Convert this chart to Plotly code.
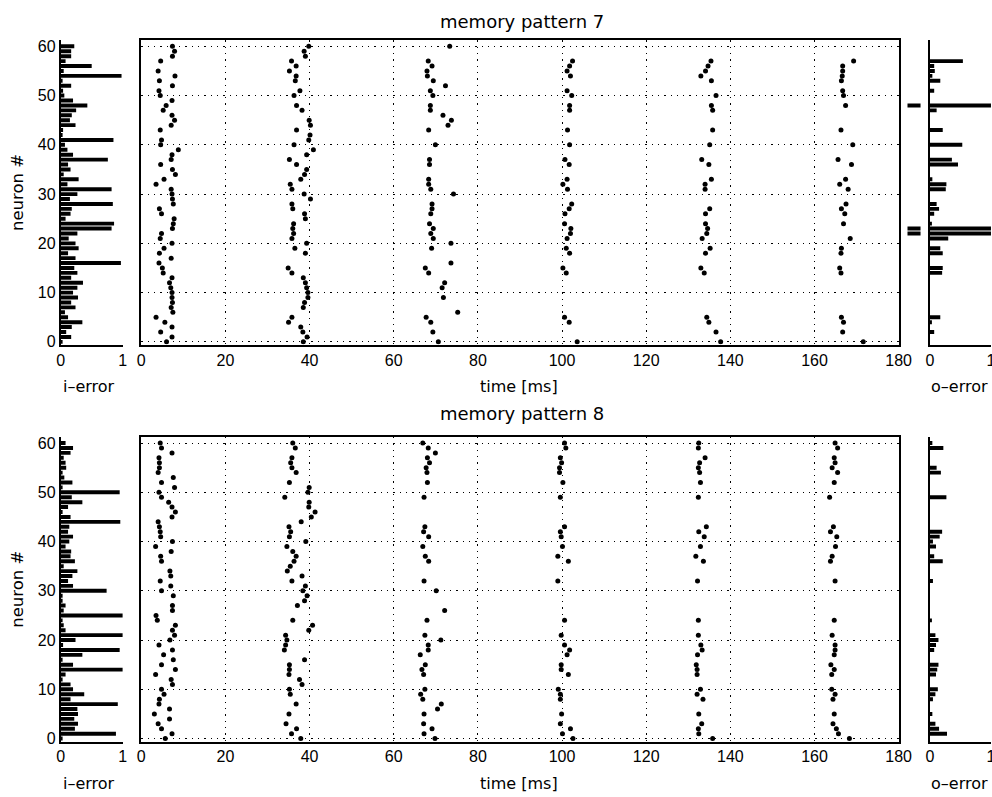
import plotly.graph_objects as go

N = None
neurons = list(range(61))

# ---------- memory pattern 7: spike times [ms] per neuron 0..60, one list per burst ----------
p7_burst1 = [6.0, 7.3, 4.6, 7.3, 5.6, 3.5, 7.5, 7.1, 7.4, 7.3,
             7.3, 7.0, 6.7, 7.3, 5.2, 5.0, 4.2, 7.1, 4.3, 5.4,
             7.3, 4.5, 4.8, 7.4, 7.6, 7.8, 4.8, 4.3, 7.6, 7.4,
             7.3, 7.1, 3.5, 5.4, 8.1, 7.4, 4.6, 7.1, 7.3, 8.8,
             4.6, 4.8, N, 4.5, 7.1, 7.9, 7.3, 5.2, 5.9, 7.3,
             4.5, 4.2, 7.4, 4.3, 8.0, 4.0, N, 4.6, 7.4, 7.9, 7.4]
p7_burst2 = [38.5, 39.4, 38.4, 37.9, 35.0, 35.8, N, 38.5, 38.8, 39.6,
             39.6, 39.3, 39.0, 38.5, 35.8, 34.9, N, N, 39.0, 36.5,
             39.3, 35.8, 36.2, 36.0, 36.2, 39.0, 38.8, 36.0, 35.8, 40.2,
             38.7, 35.8, 35.4, 37.9, 38.8, 39.3, 36.9, 35.2, 39.3, 40.9,
             36.3, 39.8, 40.1, 36.9, 40.2, 39.9, N, 38.2, 36.9, N,
             36.3, 37.7, N, 36.6, 36.8, 35.2, 36.8, 35.7, 39.0, 38.7, 39.8]
p7_burst3 = [70.6, N, 69.3, N, 68.8, 67.7, 75.2, N, N, 71.8,
             N, 71.5, 72.1, N, 68.3, 67.5, 73.6, N, N, 69.0,
             73.6, 69.4, 68.8, 69.4, 68.5, N, 68.8, 69.1, 69.1, N,
             74.2, 68.8, 68.3, 68.3, N, N, 68.5, 68.5, N, N,
             69.9, N, N, 68.3, 72.9, 73.7, 71.7, 68.7, 68.7, N,
             69.3, 68.7, 72.3, 69.4, 68.0, 67.9, 69.1, 68.2, N, N, 73.3]
p7_burst4 = [103.6, N, N, N, 101.7, 100.6, N, N, N, N,
             N, N, N, N, 101.0, 100.2, N, N, 101.8, 101.0,
             N, 101.2, 102.0, 102.1, 100.6, N, 100.7, 101.7, 102.3, N,
             N, 101.3, 100.2, 101.2, N, N, 101.7, 100.7, N, N,
             101.8, N, N, 101.3, N, N, N, 101.8, 101.8, N,
             102.3, 101.2, N, N, 102.0, 101.2, 101.8, 102.5, N, N, N]
p7_burst5 = [137.7, N, 136.6, N, 134.9, 134.4, N, N, N, N,
             N, N, N, N, 133.8, 133.0, N, N, 134.1, 135.2,
             N, 133.3, 134.4, 134.6, 134.1, N, 134.1, 135.1, N, N,
             N, 134.0, 134.0, 135.5, N, N, 134.9, 133.2, N, N,
             135.1, N, N, 135.8, N, N, N, 135.8, 135.5, N,
             136.6, N, N, 135.5, 133.0, 134.1, 134.7, 135.4, N, N, N]
p7_burst6 = [171.6, N, 166.7, N, 166.9, 166.4, N, N, N, N,
             N, N, N, N, 166.3, 166.0, N, N, 166.3, 166.4,
             N, 168.5, N, N, 166.9, N, 167.2, 166.4, 167.5, N,
             N, 168.0, 166.0, 167.4, N, N, 168.8, 165.6, N, N,
             169.1, N, N, 166.3, N, N, N, N, 167.4, N,
             166.9, 166.7, N, 166.4, 166.6, 166.7, 166.7, 169.3, N, N, N]

# ---------- memory pattern 8 ----------
p8_burst1 = [5.7, 7.3, 4.8, 4.0, 6.7, 3.1, 6.7, 4.2, 4.3, 5.4,
             4.8, 7.4, 7.1, 3.4, 8.1, 4.8, 7.6, 5.3, 7.4, 4.2,
             6.8, 7.9, 7.4, 8.1, 3.8, 3.5, 7.4, 7.4, N, 7.6,
             4.8, 7.0, 4.5, 7.0, 6.8, N, 4.8, 4.6, 7.1, 3.4,
             7.4, 4.6, 4.5, 4.3, 4.0, 7.3, 8.1, 7.3, 6.5, 4.8,
             4.2, 7.9, 4.8, 7.6, 4.0, 4.3, 4.3, 4.2, 7.3, 4.8, 4.5]
p8_burst2 = [37.9, 35.7, 36.9, 34.4, N, 35.1, N, 36.8, N, 35.4,
             35.2, 38.2, 37.6, 35.1, 35.2, 35.2, 38.8, N, 34.0, 34.3,
             34.6, 34.3, 39.8, 40.7, 36.0, N, N, 37.1, 38.8, 39.4,
             38.4, 39.0, 35.8, 38.2, 34.7, 35.4, 36.3, 36.8, 36.0, 34.6,
             39.1, 35.2, 35.5, 35.1, 38.0, 40.4, 41.3, 39.8, 39.9, 34.1,
             39.6, 39.9, 35.2, N, 36.8, 35.8, 35.5, 35.8, N, 36.6, 36.0]
p8_burst3 = [69.8, 67.2, 69.1, 67.1, N, 67.2, 70.4, 71.3, 66.9, 66.4,
             67.4, N, N, 67.1, 66.7, 67.5, N, 66.3, 68.2, 68.2,
             71.2, 67.4, N, N, 67.9, N, 72.1, N, N, N,
             70.1, N, 67.2, N, N, N, 68.3, 67.5, N, 66.9,
             N, 68.3, 67.1, 67.4, N, N, N, N, N, 67.2,
             N, N, 68.0, N, 67.9, 67.7, 68.5, 68.0, 69.9, 68.2, 66.9]
p8_burst4 = [102.6, 100.1, 102.0, 99.6, N, 99.9, N, N, 99.6, 99.6,
             99.1, N, N, 101.5, 99.8, 99.8, N, 101.2, 101.8, 100.6,
             N, 99.8, N, N, 100.6, N, N, N, N, N,
             N, N, 99.0, N, N, N, 101.5, 99.0, N, 100.1,
             N, 99.8, 99.6, 100.6, N, N, N, N, N, 99.6,
             N, N, 100.2, N, 99.4, 99.4, 99.9, 99.6, N, 100.9, 100.6]
p8_burst5 = [135.8, 132.5, 132.4, 133.2, N, 132.5, N, N, 133.5, 132.1,
             132.9, N, N, 132.1, 132.1, 131.9, N, 132.2, 133.3, 133.0,
             N, 132.4, N, N, 132.4, N, N, N, N, N,
             N, N, 132.2, N, N, N, 133.6, 131.8, N, 132.9,
             N, 133.8, 132.5, 134.3, N, N, N, N, N, 132.4,
             N, N, 132.9, N, 132.7, 132.4, 132.7, 134.0, N, 132.4, 132.5]
p8_burst6 = [168.3, 165.7, 165.2, 164.4, N, 164.7, N, N, 164.4, 164.9,
             164.1, N, N, 164.1, 164.7, 163.9, N, 164.7, 164.9, 164.9,
             N, 164.2, N, N, 164.7, N, N, N, N, N,
             N, N, 164.9, N, N, N, 163.8, 164.2, N, 165.0,
             N, 165.3, 163.8, 164.5, N, N, N, N, N, 163.6,
             N, N, 164.7, N, 165.5, 164.2, 164.9, 164.7, N, 165.5, 164.9]

# ---------- input / output errors per neuron 0..60 ----------
i_error7 = [0.03, 0.17, 0.09, 0.18, 0.35, 0.12, 0.07, 0.24, 0.17, 0.28,
            0.20, 0.27, 0.36, 0.17, 0.27, 0.22, 0.97, 0.24, 0.12, 0.29,
            0.24, 0.13, 0.27, 0.82, 0.86, 0.08, 0.16, 0.18, 0.84, 0.15,
            0.27, 0.82, 0.11, 0.29, 0.05, 0.16, 0.12, 0.76, 0.20, 0.11,
            0.07, 0.85, 0.02, 0.04, 0.24, 0.15, 0.18, 0.25, 0.43, 0.20,
            0.06, 0.04, 0.17, 0.02, 0.98, 0.05, 0.50, 0.08, 0.17, 0.17, 0.22]
i_error8 = [0.02, 0.89, 0.23, 0.28, 0.22, 0.28, 0.27, 0.92, 0.16, 0.38,
            0.20, 0.16, 0.03, 0.08, 1.00, 0.20, 0.03, 0.35, 0.95, 0.04,
            0.24, 1.00, 0.08, 0.05, 0.03, 1.00, 0.05, 0.08, 0.03, 0.02,
            0.74, 0.20, 0.12, 0.19, 0.27, 0.05, 0.23, 0.16, 0.17, 0.08,
            0.14, 0.20, 0.12, 0.14, 0.96, 0.16, 0.03, 0.12, 0.35, 0.18,
            0.95, 0.02, 0.19, 0.06, 0.03, 0.09, 0.08, 0.05, 0.16, 0.20, 0.08]
o_error7 = [0, 0, 0.07, 0, 0.03, 0.17, 0, 0, 0, 0,
            0, 0, 0, 0, 0.20, 0.21, 0, 0, 0.21, 0.17,
            0, 0.30, 1.00, 1.00, 0.02, 0, 0.07, 0.15, 0.11, 0,
            0, 0.26, 0.27, 0.04, 0, 0, 0.46, 0.36, 0, 0,
            0.53, 0, 0, 0.21, 0, 0, 0, 0.11, 1.00, 0,
            0, 0.07, 0, 0.17, 0.04, 0.08, 0.07, 0.54, 0, 0, 0]
o_error8 = [0, 0.28, 0.15, 0.09, 0, 0.04, 0, 0, 0.05, 0.09,
            0.13, 0, 0, 0.10, 0.12, 0.14, 0, 0, 0.07, 0.10,
            0.14, 0.09, 0, 0, 0.02, 0, 0, 0, 0, 0,
            0, 0, 0.05, 0, 0, 0, 0.21, 0.07, 0, 0.10,
            0.05, 0.16, 0.20, 0, 0, 0, 0, 0, 0, 0.27,
            0, 0, 0, 0, 0.18, 0.11, 0, 0, 0, 0.22, 0.04]
# stray marks left of the o-error axis (pattern 7)
o_error7_stray_neurons = [22, 23, 48]
o_error7_stray = [1, 1, 1]

titles = ["memory pattern 7", "memory pattern 8"]
time_ticks = list(range(0, 181, 20))
neuron_ticks = list(range(0, 61, 10))

W, H = 1006, 803
SX, OX, SY = 0.9866, 1.5, 0.992   # how figure pixels land in the photographed page
FONT = "Liberation Sans"
LABEL_FONT = "DejaVu Sans"

def px_x(p):
    """paper fraction for a horizontal position p measured in the reference picture"""
    return min(1.0, ((p - OX) / SX) / W)

def px_y(p):
    return 1 - (p / SY) / H

fig = go.Figure()

panels = [
    dict(bursts=[p7_burst1, p7_burst2, p7_burst3, p7_burst4, p7_burst5, p7_burst6],
         ierr=i_error7, oerr=o_error7, top=38.5, bot=343.5, ax0=1),
    dict(bursts=[p8_burst1, p8_burst2, p8_burst3, p8_burst4, p8_burst5, p8_burst6],
         ierr=i_error8, oerr=o_error8, top=436.0, bot=741.0, ax0=5),
]

yr = [-0.6, 61.2]
line_w = 1.5
layout = dict(width=W, height=H, autosize=False, margin=dict(l=0, r=0, t=0, b=0),
              paper_bgcolor="white", plot_bgcolor="white", showlegend=False,
              font=dict(family=FONT, size=16, color="black"), bargap=0.2)
annotations = []

for k, pan in enumerate(panels):
    a = pan["ax0"]
    ydom = [px_y(pan["bot"]), px_y(pan["top"])]
    xa = lambda i: "x" if i == 1 else f"x{i}"
    ya = lambda i: "y" if i == 1 else f"y{i}"
    xk = lambda i: "xaxis" if i == 1 else f"xaxis{i}"
    yk = lambda i: "yaxis" if i == 1 else f"yaxis{i}"

    # left histogram (i-error)
    fig.add_trace(go.Bar(x=pan["ierr"], y=neurons, orientation="h", width=0.8,
                         marker=dict(color="black", line=dict(width=0)),
                         xaxis=xa(a), yaxis=ya(a)))
    layout[xk(a)] = dict(domain=[px_x(58.3), px_x(120.7)], range=[0, 1], tickvals=[0, 1],
                         showline=True, linecolor="black", linewidth=line_w, ticks="",
                         showgrid=False, zeroline=False, anchor=ya(a))
    layout[yk(a)] = dict(domain=ydom, range=yr, tickvals=neuron_ticks, showline=True,
                         linecolor="black", linewidth=line_w, ticks="", showgrid=False,
                         zeroline=False, anchor=xa(a))

    # raster
    rx, ry = [], []
    for b in pan["bursts"]:
        for n, t in zip(neurons, b):
            if t is not None:
                rx.append(t)
                ry.append(n)
    fig.add_trace(go.Scatter(x=rx, y=ry, mode="markers",
                             marker=dict(color="black", size=5, line=dict(width=0)),
                             xaxis=xa(a + 1), yaxis=ya(a + 1)))
    layout[xk(a + 1)] = dict(domain=[px_x(139.3), px_x(899.3)], range=[0, 180],
                             tickvals=time_ticks, showline=True, mirror=True,
                             linecolor="black", linewidth=line_w, ticks="",
                             showgrid=True, gridcolor="black", gridwidth=1,
                             griddash="1.3px,5px", zeroline=False, anchor=ya(a + 1))
    layout[yk(a + 1)] = dict(domain=ydom, range=yr, tickvals=neuron_ticks,
                             showticklabels=False, showline=True, mirror=True,
                             linecolor="black", linewidth=line_w, ticks="",
                             showgrid=True, gridcolor="black", gridwidth=1,
                             griddash="1.3px,5px", zeroline=False, anchor=xa(a + 1))

    # right histogram (o-error)
    fig.add_trace(go.Bar(x=pan["oerr"], y=neurons, orientation="h", width=0.8,
                         marker=dict(color="black", line=dict(width=0)),
                         xaxis=xa(a + 2), yaxis=ya(a + 2)))
    layout[xk(a + 2)] = dict(domain=[px_x(930.7), px_x(992)], range=[0, 1], tickvals=[0, 1],
                             showline=True, linecolor="black", linewidth=line_w, ticks="",
                             showgrid=False, zeroline=False, anchor=ya(a + 2))
    layout[yk(a + 2)] = dict(domain=ydom, range=yr, tickvals=neuron_ticks,
                             showticklabels=False, showline=True, linecolor="black",
                             linewidth=line_w, ticks="", showgrid=False, zeroline=False,
                             anchor=xa(a + 2))

    # stray marks axis
    layout[xk(a + 3)] = dict(domain=[px_x(908), px_x(921.5)], range=[0, 1], visible=False,
                             anchor=ya(a + 3))
    layout[yk(a + 3)] = dict(domain=ydom, range=yr, visible=False, anchor=xa(a + 3))
    if k == 0:
        fig.add_trace(go.Bar(x=o_error7_stray, y=o_error7_stray_neurons, orientation="h",
                             width=0.8, marker=dict(color="black", line=dict(width=0)),
                             xaxis=xa(a + 3), yaxis=ya(a + 3)))

    # texts
    title_y = 20 if k == 0 else 412
    lab_y = pan["bot"] + 42
    lf = dict(family=LABEL_FONT, size=16)
    annotations += [
        dict(text=titles[k], x=px_x(521), y=px_y(title_y), xref="paper", yref="paper",
             showarrow=False, font=dict(family=LABEL_FONT, size=18),
             xanchor="center", yanchor="middle"),
        dict(text="time [ms]", x=px_x(518), y=px_y(lab_y), xref="paper", yref="paper",
             showarrow=False, font=lf, xanchor="center", yanchor="middle"),
        dict(text="i–error", x=px_x(87), y=px_y(lab_y), xref="paper", yref="paper",
             showarrow=False, font=lf, xanchor="center", yanchor="middle"),
        dict(text="o–error", x=px_x(960), y=px_y(lab_y), xref="paper", yref="paper",
             showarrow=False, font=lf, xanchor="center", yanchor="middle"),
        dict(text="neuron #", x=px_x(15), y=px_y((pan["top"] + pan["bot"]) / 2),
             xref="paper", yref="paper", showarrow=False, textangle=-90,
             font=dict(family=LABEL_FONT, size=16.5), xanchor="center", yanchor="middle"),
    ]

layout["annotations"] = annotations
fig.update_layout(**layout)
fig.write_html("out.html")
